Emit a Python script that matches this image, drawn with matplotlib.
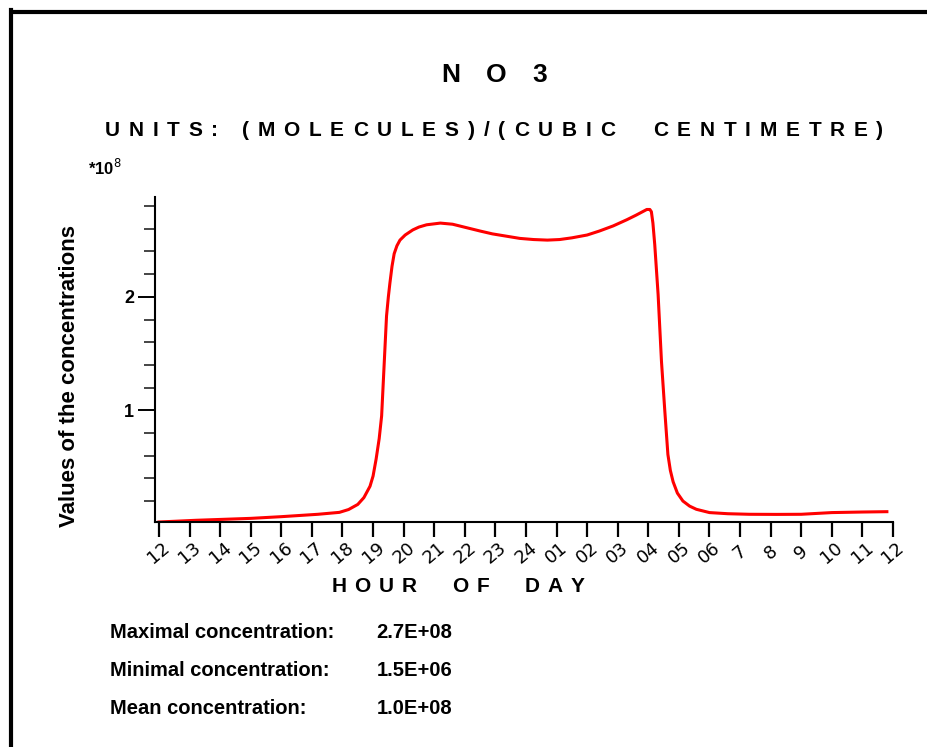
import matplotlib
matplotlib.use("Agg")
import matplotlib.pyplot as plt
from matplotlib.lines import Line2D
from matplotlib.ticker import MultipleLocator

# hours after 12:00, concentration in units of 1e8 molecules/cm3
hours = [0, 1.2, 3.0, 4.0, 5.2, 5.9, 6.2, 6.5, 6.7, 6.9, 7.0, 7.1, 7.2,
         7.28, 7.36, 7.44, 7.5, 7.55, 7.62, 7.69, 7.78, 7.88, 8.05, 8.3,
         8.5, 8.75, 9.2, 9.6, 10.05, 10.5, 10.9, 11.35, 11.8, 12.25, 12.7,
         13.1, 13.5, 14.0, 14.4, 14.85, 15.3, 15.6, 15.95, 16.05, 16.1,
         16.15, 16.21, 16.32, 16.43, 16.54, 16.64, 16.72, 16.81, 16.95,
         17.13, 17.35, 17.57, 18.0, 18.6, 19.3, 20.2, 21.0, 22.0, 23.0, 23.8]
conc = [0.015, 0.03, 0.047, 0.062, 0.083, 0.10, 0.125, 0.17, 0.23, 0.33,
        0.42, 0.57, 0.75, 0.95, 1.39, 1.83, 2.0, 2.12, 2.27, 2.38, 2.45,
        2.50, 2.545, 2.59, 2.615, 2.635, 2.65, 2.64, 2.61, 2.58, 2.555,
        2.535, 2.515, 2.505, 2.50, 2.505, 2.52, 2.545, 2.58, 2.625, 2.68,
        2.72, 2.77, 2.77, 2.75, 2.65, 2.46, 2.02, 1.43, 0.99, 0.61, 0.47,
        0.37, 0.27, 0.20, 0.155, 0.127, 0.098, 0.088, 0.083, 0.082, 0.083,
        0.098, 0.103, 0.106]

hour_labels = ['12', '13', '14', '15', '16', '17', '18', '19', '20', '21',
               '22', '23', '24', '01', '02', '03', '04', '05', '06', '7',
               '8', '9', '10', '11', '12']
stat_names = ['Maximal concentration:', 'Minimal concentration:',
              'Mean concentration:']
stat_values = ['2.7E+08', '1.5E+06', '1.0E+08']

W, H = 927, 747
fig = plt.figure(figsize=(W / 100, H / 100), dpi=100)
renderer = fig.canvas.get_renderer()
sans = ['Liberation Sans', 'DejaVu Sans']


def tracked(xc, yc, s, size, track):
    # draw s centred on xc (pixels), with extra space of track px between letters
    kw = dict(fontsize=size, fontweight='bold', family=sans, va='center',
              ha='left')
    widths = []
    for ch in s:
        if ch == ' ':
            widths.append(size * 1.39 * 0.28)
            continue
        t = fig.text(0, 0, ch, **kw)
        widths.append(t.get_window_extent(renderer).width)
        t.remove()
    total = sum(widths) + track * (len(s) - 1)
    x = xc - total / 2
    for ch, w in zip(s, widths):
        if ch != ' ':
            fig.text(x / W, 1 - yc / H, ch, **kw)
        x += w + track


# frame
fig.add_artist(Line2D([11 / W, 1], [1 - 11.5 / H] * 2, color='black', lw=3,
                      transform=fig.transFigure, solid_capstyle='butt'))
fig.add_artist(Line2D([11 / W] * 2, [0, 1 - 10 / H], color='black', lw=3,
                      transform=fig.transFigure, solid_capstyle='projecting'))

ax = fig.add_axes([155 / W, 1 - 522 / H, (893 - 155) / W, (522 - 197) / H])
ax.plot(hours, conc, color='red', lw=2.2, solid_joinstyle='round')
ax.set_xlim(-0.13, 24)
ax.set_ylim(0.015, 2.88)

for s in ['top', 'right']:
    ax.spines[s].set_visible(False)
for s in ['left', 'bottom']:
    ax.spines[s].set_linewidth(1.5)

ax.set_xticks(range(25))
ax.set_xticklabels(hour_labels, rotation=40, ha='center', va='center',
                   fontsize=13, family='DejaVu Sans')
ax.tick_params(axis='x', direction='out', length=11, width=1.6, pad=11)

ax.yaxis.set_major_locator(MultipleLocator(1))
ax.yaxis.set_minor_locator(MultipleLocator(0.2))
ax.set_yticks([1, 2])
ax.set_yticklabels(['1', '2'], fontsize=13, fontweight='bold', family=sans)
ax.tick_params(axis='y', which='major', direction='out', length=12, width=1.4,
               pad=3)
ax.tick_params(axis='y', which='minor', direction='out', length=8, width=1.4,
               color='#444444')

# titles
tracked(494, 75, 'NO3', 19, 26)
tracked(494, 130, 'UNITS: (MOLECULES)/(CUBIC  CENTIMETRE)', 15, 8.8)
tracked(458, 586, 'HOUR  OF  DAY', 15, 8)
fig.text(88 / W, 1 - 168 / H, r'*10$^8$', ha='left', va='center',
         fontsize=12, fontweight='bold', family=sans)
fig.text(70 / W, 1 - 376 / H, 'Values of the concentrations', rotation=90,
         ha='center', va='center', fontsize=16, fontweight='bold', family=sans)

for i, (name, val) in enumerate(zip(stat_names, stat_values)):
    y = 1 - (633 + 37.5 * i) / H
    fig.text(110 / W, y, name, ha='left', va='center', fontsize=14.5,
             fontweight='bold', family=sans)
    fig.text(452 / W, y, val, ha='right', va='center', fontsize=14.5,
             fontweight='bold', family=sans)

fig.savefig('out.png', dpi=100)
